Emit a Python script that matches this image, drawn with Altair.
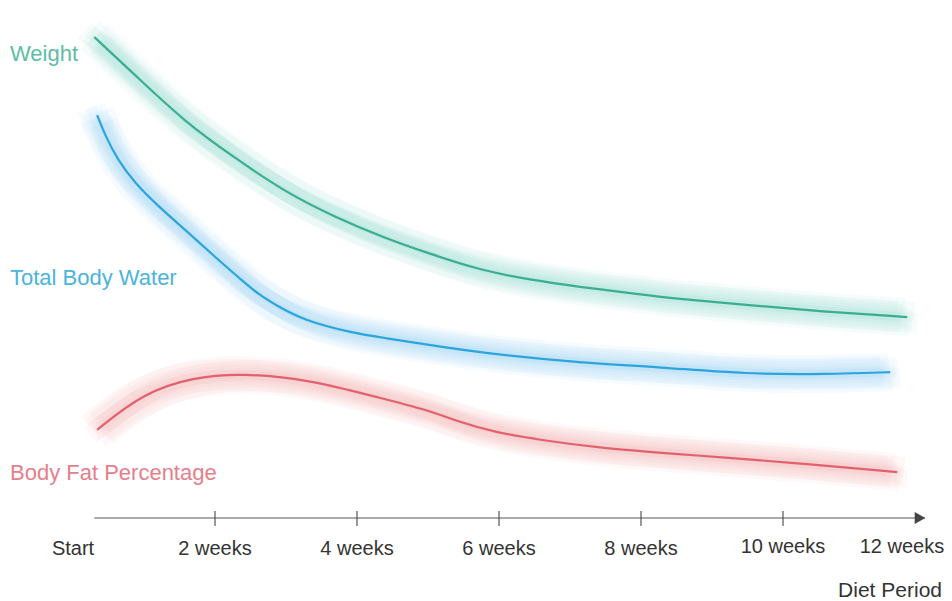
import altair as alt
import pandas as pd

# ---- data (x in weeks, y in relative units 0-100) ----
weight_weeks = [0.30, 0.87, 1.58, 2.28, 2.99, 3.69, 4.39, 5.03, 5.73, 6.44, 7.14, 7.85, 8.55, 9.49, 10.62, 11.75]
weight_vals = [94.3, 86.9, 77.6, 70.6, 63.9, 59.0, 54.9, 51.8, 48.6, 46.7, 45.3, 44.1, 42.9, 41.8, 40.4, 39.4]

water_weeks = [0.34, 0.45, 0.63, 0.87, 1.18, 1.58, 2.00, 2.42, 2.63, 2.85, 3.24, 3.93, 4.39, 5.03, 5.73, 7.14, 8.27, 9.49, 10.62, 11.51]
water_vals = [79.0, 75.1, 70.2, 65.7, 61.4, 56.5, 51.2, 46.1, 43.7, 41.8, 38.8, 36.3, 35.3, 33.9, 32.4, 30.4, 29.6, 28.2, 28.2, 28.6]

fat_weeks = [0.34, 0.99, 1.69, 2.39, 3.34, 4.28, 4.99, 5.45, 5.92, 6.58, 7.42, 8.83, 10.0, 11.61]
fat_vals = [17.3, 24.5, 27.6, 28.4, 27.1, 23.7, 21.2, 18.8, 16.9, 15.3, 13.7, 12.2, 11.0, 9.0]

series_names = ["Weight", "Total Body Water", "Body Fat Percentage"]
line_colors = ["#3aae92", "#2aa6de", "#e3616f"]
glow_colors = ["#8fd8c8", "#8ad2f3", "#f2a2ac"]
label_colors = ["#5dbda3", "#4ab4dd", "#e57f8b"]

tick_weeks = [2, 4, 6, 8, 10]
label_weeks = [0, 2, 4, 6, 8]
label_texts = ["Start", "2 weeks", "4 weeks", "6 weeks", "8 weeks"]
late_label_weeks = [10]
late_label_texts = ["10 weeks"]
last_label_week = [12]
last_label_text = ["12 weeks"]
axis_start = [0.3]
axis_end = [12]
x_title = "Diet Period"

# ---- build tables ----
rows = []
for name, wk, vals in [(series_names[0], weight_weeks, weight_vals),
                       (series_names[1], water_weeks, water_vals),
                       (series_names[2], fat_weeks, fat_vals)]:
    for w, v in zip(wk, vals):
        rows.append({"series": name, "week": w, "value": v})
df = pd.DataFrame(rows)

FONT = "Liberation Sans"
xs = alt.Scale(domain=[0, 12], nice=False, zero=False)
ys = alt.Scale(domain=[0, 100], nice=False, zero=False)


def enc(chart, colors):
    return chart.encode(
        x=alt.X("week:Q", scale=xs, axis=None),
        y=alt.Y("value:Q", scale=ys, axis=None),
        color=alt.Color("series:N", scale=alt.Scale(domain=series_names, range=colors), legend=None),
        detail="series:N",
    )


glow_offsets = [(-10, -6), (-5, -3), (0, 0), (5, 3), (10, 6), (7, -5), (-7, 5), (2, 9), (-2, -9)]
glow_layers = []
for dx, dy in glow_offsets:
    glow_layers.append(enc(alt.Chart(df).mark_line(strokeWidth=20, opacity=0.08, interpolate="basis",
                                                   strokeCap="butt", xOffset=dx, yOffset=dy), glow_colors))
glow = alt.layer(*glow_layers)
main_line = enc(alt.Chart(df).mark_line(strokeWidth=2.2, opacity=1, interpolate="basis"), line_colors)

layers = [glow, main_line]

# axis line
axis_df = pd.DataFrame({"x": axis_start, "x2": axis_end})
layers.append(alt.Chart(axis_df).mark_rule(color="#555555", strokeWidth=1.2).encode(
    x=alt.X("x:Q", scale=xs), x2="x2:Q", y=alt.datum(0, scale=ys)))

# arrow head
arrow_df = pd.DataFrame({"x": axis_end})
layers.append(alt.Chart(arrow_df).mark_point(shape="triangle-right", filled=True, size=150,
                                             color="#444444", opacity=1, xOffset=-5).encode(
    x=alt.X("x:Q", scale=xs), y=alt.datum(0, scale=ys)))

# ticks
tick_df = pd.DataFrame({"x": tick_weeks})
layers.append(alt.Chart(tick_df).mark_rule(color="#555555", strokeWidth=1.2).encode(
    x=alt.X("x:Q", scale=xs), y=alt.value(503), y2=alt.value(518)))

# tick labels
lab_df = pd.DataFrame({"x": label_weeks, "t": label_texts})
layers.append(alt.Chart(lab_df).mark_text(font=FONT, fontSize=20, color="#333333",
                                          baseline="alphabetic", align="center").encode(
    x=alt.X("x:Q", scale=xs), y=alt.value(547), text="t:N"))
late_df = pd.DataFrame({"x": late_label_weeks, "t": late_label_texts})
layers.append(alt.Chart(late_df).mark_text(font=FONT, fontSize=20, color="#333333",
                                           baseline="alphabetic", align="center").encode(
    x=alt.X("x:Q", scale=xs), y=alt.value(545), text="t:N"))
last_df = pd.DataFrame({"x": last_label_week, "t": last_label_text})
layers.append(alt.Chart(last_df).mark_text(font=FONT, fontSize=20, color="#333333",
                                           baseline="alphabetic", align="center", dx=-23).encode(
    x=alt.X("x:Q", scale=xs), y=alt.value(545), text="t:N"))

# axis title
title_df = pd.DataFrame({"t": [x_title]})
layers.append(alt.Chart(title_df).mark_text(font=FONT, fontSize=21, color="#333333",
                                            baseline="alphabetic", align="right").encode(
    x=alt.value(869), y=alt.value(589), text="t:N"))

# series labels
label_y = [53, 277, 472]
for name, col, yy in zip(series_names, label_colors, label_y):
    layers.append(alt.Chart(pd.DataFrame({"t": [name]})).mark_text(
        font=FONT, fontSize=22, color=col, baseline="alphabetic", align="left").encode(
        x=alt.value(-63), y=alt.value(yy), text="t:N"))

chart = alt.layer(*layers).resolve_scale(color="independent").properties(
    width=852, height=510,
    padding={"left": 65, "right": 19, "top": 0, "bottom": 82},
    autosize=alt.AutoSizeParams(type="none"),
    background="white",
).configure_view(stroke=None)

chart.save("out.html", embed_options={"renderer": "svg", "actions": False})
